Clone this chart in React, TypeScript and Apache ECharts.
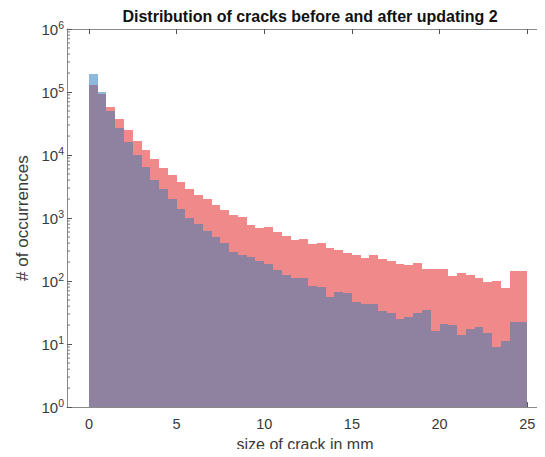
import React, { useEffect, useRef } from "react";
import * as echarts from "echarts";

const TITLE = "Distribution of cracks before and after updating 2";
const X_LABEL = "size of crack in mm";
const Y_LABEL = "# of occurrences";

const BIN_START = 0;
const BIN_WIDTH = 0.5;

// crack counts per 0.5 mm bin (0 .. 25 mm)
const beforeCounts = [
  192000, 99500, 49100, 26800, 16100, 10100, 6460, 4070, 2930, 2010,
  1410, 1007, 818, 618, 497, 405, 288, 255, 243, 207,
  184, 149, 127, 113, 110, 85, 80, 55, 67, 65,
  46, 44, 43, 34, 31, 25, 27, 31, 35, 16,
  21, 20, 14, 17.6, 18.7, 14.8, 9.1, 11, 22.4, 22.4,
];
const afterCounts = [
  130000, 92500, 56800, 37200, 24900, 16900, 12000, 8650, 6230, 4880,
  3740, 2930, 2350, 2010, 1600, 1350, 1100, 1045, 790, 700,
  715, 596, 528, 456, 469, 385, 400, 337, 309, 274,
  258, 234, 258, 220, 207, 190, 179, 195, 153, 153,
  153, 120, 136, 127, 110, 96, 100, 77, 144, 144,
];

const xTicks = [0, 5, 10, 15, 20, 25];
const X_MIN = -1.25;
const X_MAX = 25.9;
const Y_MIN = 1;
const Y_MAX = 1000000;

const COLOR_BEFORE = "#8db8db";
const COLOR_AFTER = "#f08a8a";
const COLOR_OVERLAP = "#8f82a0";
const AXIS_COLOR = "#8a8a8a";
const TEXT_COLOR = "#3a3a3a";
const FONT = "'Liberation Sans', Arial, Helvetica, sans-serif";

function binData(counts: number[]) {
  return counts.map((c, i) => [BIN_START + i * BIN_WIDTH, BIN_START + (i + 1) * BIN_WIDTH, c]);
}

const overlapCounts = beforeCounts.map((b, i) => Math.min(b, afterCounts[i]));

const minorTickValues: number[] = [];
for (let e = 0; e < 6; e++) {
  for (let m = 2; m <= 9; m++) minorTickValues.push(m * Math.pow(10, e));
}

function histSeries(name: string, counts: number[], color: string, z: number) {
  return {
    type: "custom",
    name,
    z,
    data: binData(counts),
    encode: { x: [0, 1], y: 2 },
    renderItem: (params: any, api: any) => {
      const x0 = api.value(0);
      const x1 = api.value(1);
      const v = api.value(2);
      const pTop = api.coord([x0, v]);
      const pBot = api.coord([x1, Y_MIN]);
      const left = Math.round(pTop[0]);
      const right = Math.round(pBot[0]);
      const top = Math.round(pTop[1]);
      const bottom = Math.round(pBot[1]);
      return {
        type: "rect",
        shape: { x: left, y: top, width: right - left, height: bottom - top },
        style: { fill: color },
      };
    },
  };
}

export default function App() {
  const ref = useRef<HTMLDivElement>(null);
  useEffect(() => {
    if (!ref.current) return;
    const chart = echarts.init(ref.current, null, { renderer: "svg" });
    const yLabelFmt = (v: number) => `10{s|${Math.round(Math.log10(v))}}`;
    const yRich = {
      s: { fontSize: 10.5, fontFamily: FONT, color: TEXT_COLOR, padding: [0, 0, 9, 0] },
    };
    const tickStyle = { color: "#555" };
    chart.setOption({
      animation: false,
      title: {
        text: TITLE,
        left: 305,
        textAlign: "center",
        top: 3,
        textStyle: { fontSize: 16, fontWeight: "bold", fontFamily: FONT, color: "#111" },
      },
      grid: { left: 67, right: 2, top: 29, bottom: 49, containLabel: false },
      xAxis: [
        {
          type: "value",
          min: X_MIN,
          max: X_MAX,
          name: X_LABEL,
          nameLocation: "middle",
          nameGap: 22,
          nameTextStyle: { fontSize: 16, fontFamily: FONT, color: TEXT_COLOR },
          axisLine: { show: true, onZero: false, lineStyle: { color: AXIS_COLOR, width: 1 } },
          axisTick: { show: true, inside: true, length: 5, customValues: xTicks, lineStyle: tickStyle },
          axisLabel: {
            customValues: xTicks,
            margin: 9,
            fontSize: 14.5,
            fontFamily: FONT,
            color: TEXT_COLOR,
          },
          splitLine: { show: false },
        },
        {
          type: "value",
          position: "top",
          min: X_MIN,
          max: X_MAX,
          axisLine: { show: true, onZero: false, lineStyle: { color: AXIS_COLOR, width: 1 } },
          axisTick: { show: true, inside: true, length: 5, customValues: xTicks, lineStyle: tickStyle },
          axisLabel: { show: false },
          splitLine: { show: false },
        },
      ],
      yAxis: [
        {
          type: "log",
          logBase: 10,
          min: Y_MIN,
          max: Y_MAX,
          name: Y_LABEL,
          nameLocation: "middle",
          nameGap: 36,
          nameRotate: 90,
          nameTextStyle: { fontSize: 17, fontFamily: FONT, color: TEXT_COLOR },
          axisLine: { show: true, onZero: false, lineStyle: { color: AXIS_COLOR, width: 1 } },
          axisTick: { show: true, inside: true, length: 5, lineStyle: tickStyle },
          axisLabel: {
            formatter: yLabelFmt,
            rich: yRich,
            margin: 3,
            fontSize: 15,
            fontFamily: FONT,
            color: TEXT_COLOR,
          },
          splitLine: { show: false },
        },
        {
          type: "log",
          logBase: 10,
          min: Y_MIN,
          max: Y_MAX,
          position: "right",
          axisLine: { show: true, onZero: false, lineStyle: { color: AXIS_COLOR, width: 1 } },
          axisTick: { show: true, inside: true, length: 5, lineStyle: tickStyle },
          axisLabel: { show: false },
          splitLine: { show: false },
        },
      ],
      series: [
        histSeries("after updating", afterCounts, COLOR_AFTER, 2),
        histSeries("before updating", beforeCounts, COLOR_BEFORE, 3),
        histSeries("overlap", overlapCounts, COLOR_OVERLAP, 4),
        {
          type: "custom",
          name: "minor ticks",
          z: 10,
          silent: true,
          data: minorTickValues.map((v) => [v]),
          encode: { y: 0 },
          renderItem: (params: any, api: any) => {
            const v = api.value(0);
            const pl = api.coord([X_MIN, v]);
            const pr = api.coord([X_MAX, v]);
            const st = { stroke: "#777", lineWidth: 1 };
            return {
              type: "group",
              children: [
                { type: "line", shape: { x1: pl[0], y1: pl[1], x2: pl[0] + 3, y2: pl[1] }, style: st },
                { type: "line", shape: { x1: pr[0], y1: pr[1], x2: pr[0] - 3, y2: pr[1] }, style: st },
              ],
            };
          },
        },
      ],
    });
    return () => chart.dispose();
  }, []);
  return <div ref={ref} style={{ width: 545, height: 457, margin: -8 }} />;
}
